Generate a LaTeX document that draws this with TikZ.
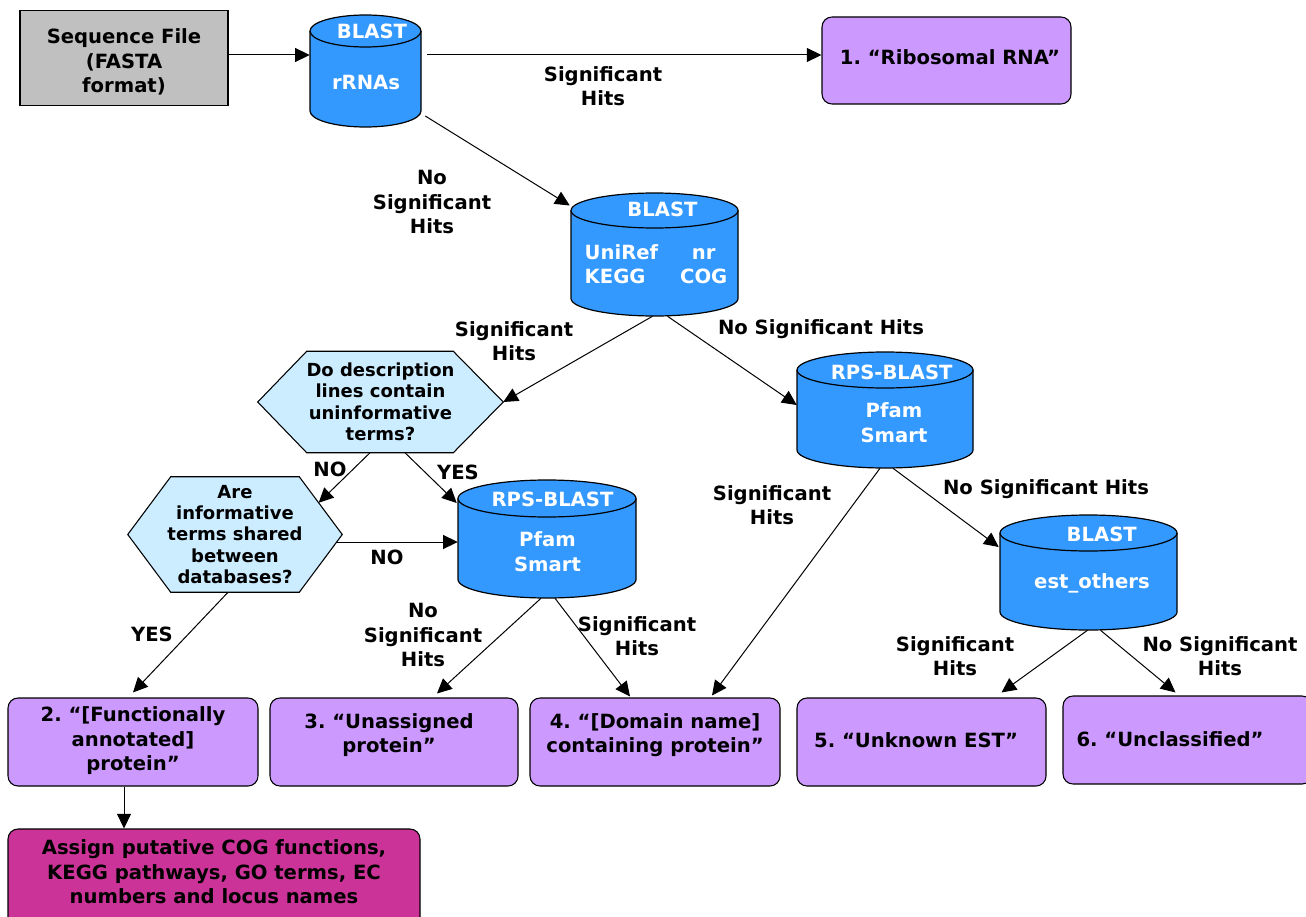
\documentclass[tikz,border=0pt]{standalone}
\usepackage{fontspec}
\setmainfont{DejaVu Sans}
\frenchspacing
\usetikzlibrary{arrows.meta,calc}
\pgfdeclarelayer{background}
\pgfsetlayers{background,main}
\definecolor{grayfill}{HTML}{C0C0C0}
\definecolor{cylblue}{HTML}{3399FF}
\definecolor{purplefill}{HTML}{CC99FF}
\definecolor{hexfill}{HTML}{CCECFF}
\definecolor{magentafill}{HTML}{CC3399}
% #1 name, #2 cx, #3 top ellipse centre y, #4 half width, #5 y radius, #6 bottom ellipse centre y (pixels, y down)
\newcommand\dbcyl[6]{%
  \filldraw[fill=cylblue, draw=black, line width=0.9pt] ({#2-#4},-#3) -- ({#2-#4},-#6) arc[start angle=180,end angle=360,x radius=#4,y radius=#5] -- ({#2+#4},-#3) arc[start angle=0,end angle=180,x radius=#4,y radius=#5] -- cycle;
  \draw[line width=0.9pt] ({#2-#4},-#3) arc[start angle=180,end angle=360,x radius=#4,y radius=#5];
  \node[inner sep=0, minimum width={1.5pt*#4}, minimum height={0.75pt*(#6-#3+2*#5)}] (#1) at (#2,{-(#3+#6)/2}) {};
}
\begin{document}
\begin{tikzpicture}[x=0.75pt,y=0.75pt,
  font=\fontsize{14.7}{18.4}\selectfont\bfseries,
  lbl/.style={align=center, inner sep=0},
  cyltxt/.style={text=white, align=center, inner sep=0},
  hextxt/.style={font=\fontsize{13.5}{16.1}\selectfont\bfseries, align=center, inner sep=0},
  box/.style={draw=black, line width=0.8pt, rounded corners=7.5pt, inner sep=0},
  hexs/.style={draw=black, line width=0.8pt, fill=hexfill},
  arr/.style={-{Triangle[length=11pt,width=10.5pt]}, line width=0.75pt},
  conn/.style={line width=0.75pt}]
\useasboundingbox (0,0) rectangle (1306,-917);
\clip (0,0) rectangle (1306,-917);
\begin{pgfonlayer}{background}
\fill[white] (0,0) rectangle (1306,-917);
\end{pgfonlayer}

% cylinders
\dbcyl{c1}{365.5}{31}{55.5}{16}{111}
\dbcyl{c2}{654.5}{210.5}{83.5}{17.5}{298.5}
\dbcyl{c3}{885}{370}{88}{18}{450}
\dbcyl{c4}{547}{498.5}{89}{18.5}{579.5}
\dbcyl{c5}{1088.5}{533}{88.5}{18}{612}

\node[cyltxt] (c1t) at (372,-31) {BLAST};
\node[cyltxt] (c1b) at (366,-82) {rRNAs};
\node[cyltxt] (c2t) at (662.5,-209) {BLAST};
\node[cyltxt] (c2b) at (656,-266.5) {\begin{tabular}{@{}l@{\hspace{16.5pt}}c@{}}UniRef & nr\\[-1pt] KEGG & COG\end{tabular}};
\node[cyltxt] (c3t) at (891.7,-372) {RPS-BLAST};
\node[cyltxt] (c3b) at (894,-422.5) {Pfam\\Smart};
\node[cyltxt] (c4t) at (552.5,-499) {RPS-BLAST};
\node[cyltxt] (c4b) at (547.5,-551.5) {Pfam\\Smart};
\node[cyltxt] (c5t) at (1101.7,-534) {BLAST};
\node[cyltxt] (c5b) at (1092,-583) {est\_others};

% boxes
\node[draw=black, line width=0.8pt, fill=grayfill, inner sep=0, minimum width=156pt, minimum height=71.6pt] (seq) at (124,-58) {};
\node[lbl] (seqt) at (124,-62) {Sequence File\\(FASTA\\format)};
\node[box, fill=purplefill, minimum width=186.75pt, minimum height=65.25pt] (rib) at (946.5,-60.5) {};
\node[lbl] (ribt) at (950,-57) {1. “Ribosomal RNA”};
\node[box, fill=purplefill, minimum width=187.5pt, minimum height=66pt] (b2) at (133,-742) {};
\node[lbl] (b2t) at (133,-741) {2. “[Functionally\\annotated]\\protein”};
\node[box, fill=purplefill, minimum width=186pt, minimum height=66pt] (b3) at (394,-742) {};
\node[lbl] (b3t) at (389,-735) {3. “Unassigned\\protein”};
\node[box, fill=purplefill, minimum width=187.5pt, minimum height=66pt] (b4) at (655,-742) {};
\node[lbl] (b4t) at (655,-735) {4. “[Domain name]\\containing protein”};
\node[box, fill=purplefill, minimum width=186.75pt, minimum height=66pt] (b5) at (921.5,-742) {};
\node[lbl] (b5t) at (916,-740) {5. “Unknown EST”};
\node[box, fill=purplefill, minimum width=186.75pt, minimum height=66pt] (b6) at (1187.5,-740) {};
\node[lbl] (b6t) at (1170,-739) {6. “Unclassified”};
\node[box, fill=magentafill, minimum width=309pt, minimum height=75pt] (b7) at (214,-879) {};
\node[lbl] (b7t) at (214,-872) {Assign putative COG functions,\\KEGG pathways, GO terms, EC\\numbers and locus names};

% hexagons
\node[hextxt, minimum width=183.75pt, minimum height=75.75pt] (h1) at (380.5,-402) {Do description\\lines contain\\uninformative\\terms?};
\node[hextxt, minimum width=160.5pt, minimum height=86.25pt] (h2) at (235,-534.5) {Are\\informative\\terms shared\\between\\databases?};
\begin{pgfonlayer}{background}
\draw[hexs] (h1.west) -- ($(h1.north west)+(49,0)$) -- ($(h1.north east)+(-50,0)$) -- (h1.east) -- ($(h1.south east)+(-50,0)$) -- ($(h1.south west)+(49,0)$) -- cycle;
\draw[hexs] (h2.west) -- ($(h2.north west)+(43,0)$) -- ($(h2.north east)+(-43,0)$) -- (h2.east) -- ($(h2.south east)+(-43,0)$) -- ($(h2.south west)+(43,0)$) -- cycle;
\end{pgfonlayer}

% connectors
\draw[arr] ($(seq.east)+(0,3)$) -- ($(seq.east -| c1.west)+(0,3)$);
\draw[arr] ($(c1.east)+(6,16)$) -- ($(rib.west)+(0,5.5)$);
\draw[arr] ($(c1.east)+(4,-45)$) -- ($(c2.west)+(-1,49)$);
\draw[arr] ($(c2.south)+(-2,0)$) -- (h1.east);
\draw[arr] ($(c2.south)+(13,0)$) -- ($(c3.west)+(0,5)$);
\draw[arr] ($(h1.south)+(-10.5,0)$) -- ($(h2.north east)+(-23.6,-26)$);
\draw[arr] ($(h1.south)+(24.5,0)$) -- ($(c4.west)+(-1,36)$);
\draw[arr] ($(h2.east)+(-5.6,-7.5)$) -- ($(c4.west)+(0,-3)$);
\draw[arr] ($(h2.south)+(-7,0)$) -- ($(b2.north)+(0,5)$);
\draw[arr] ($(c4.south)+(-6,0)$) -- ($(b3.north)+(43,4)$);
\draw[arr] ($(c4.south)+(8,0)$) -- ($(b4.north)+(-25,1)$);
\draw[arr] ($(c3.south)+(-5,0)$) -- ($(b4.north)+(57,2)$);
\draw[arr] ($(c3.south)+(8,0)$) -- ($(c5.west)+(-1,25.5)$);
\draw[arr] ($(c5.south)+(-1,0)$) -- ($(b5.north)+(80,5)$);
\draw[arr] ($(c5.south)+(12,0)$) -- ($(b6.north)+(-12,3)$);
\draw[arr] ($(b2.south)+(-9,0)$) -- ($(b7.north)+(-90,0)$);

% labels
\node[lbl] (l1) at (603,-86) {Significant\\Hits};
\node[lbl] (l2) at (432,-202) {No\\Significant\\Hits};
\node[lbl] (l3) at (514,-341) {Significant\\Hits};
\node[lbl] (l4) at (821,-329) {No Significant Hits};
\node[lbl] (l5) at (330,-469) {NO};
\node[lbl] (l6) at (458,-472) {YES};
\node[lbl] (l7) at (387,-557) {NO};
\node[lbl] (l8) at (772,-505) {Significant\\Hits};
\node[lbl] (l9) at (1046,-489) {No Significant Hits};
\node[lbl] (l10) at (152,-634) {YES};
\node[lbl] (l11) at (423,-635) {No\\Significant\\Hits};
\node[lbl] (l12) at (637,-636) {Significant\\Hits};
\node[lbl] (l13) at (955,-656) {Significant\\Hits};
\node[lbl] (l14) at (1220,-656) {No Significant\\Hits};
\end{tikzpicture}
\end{document}
